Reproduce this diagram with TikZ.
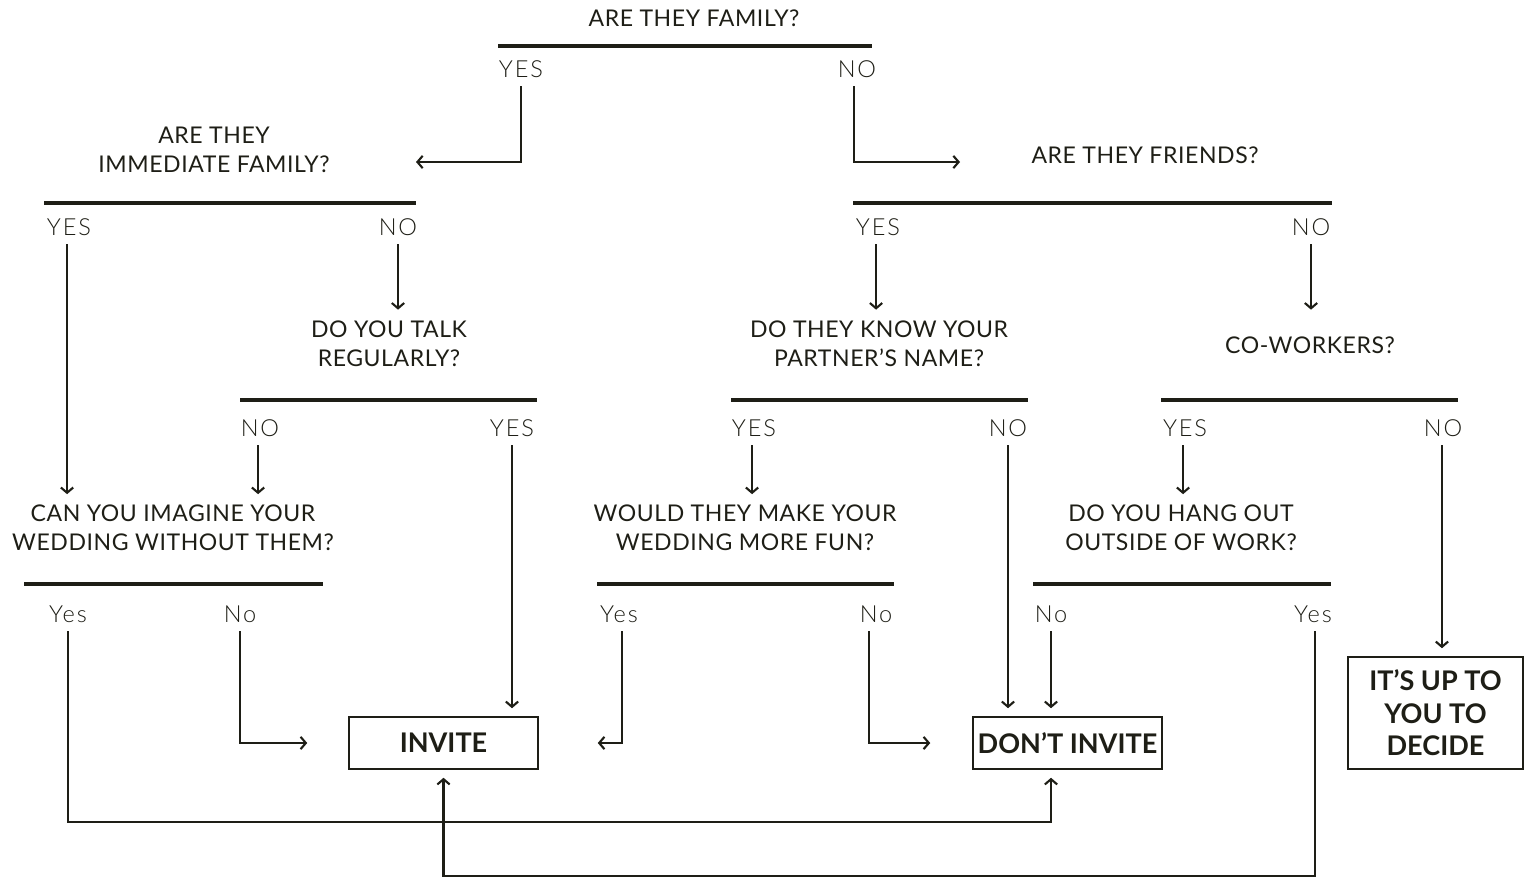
\documentclass[tikz,border=0pt]{standalone}
\usepackage{fontspec}
\setmainfont{Lato}
\newfontfamily\questfont{Lato}[LetterSpace=2.5]
\newfontfamily\lightfont{Lato Light}[LetterSpace=8]
\usetikzlibrary{arrows.meta}
\definecolor{ink}{RGB}{30,30,22}

\newcommand{\drawqbar}[3]{   % x1, x2, y
	\draw[qbar] (#1, #3) -- (#2, #3);
}

\tikzset{
	question/.style={font=\questfont\fontsize{13.1}{16.5}\selectfont, align=center, text=ink, inner sep=6pt},
	answer/.style={font=\lightfont\fontsize{13.4}{15}\selectfont, text=ink, inner sep=0pt,
		text height=9.5pt, text depth=0pt, outer sep=5pt},
	qbar/.style={draw=ink, line width=2.8pt},
	link/.style={draw=ink, line width=1.2pt, -{Straight Barb[length=3pt,width=7pt]}},
	result/.style={draw=ink, line width=1.4pt, font=\bfseries\fontsize{15.4}{18.5}\selectfont,
		align=center, text=ink, inner sep=0pt, outer sep=5pt},
}

\begin{document}
\begin{tikzpicture}[x=0.02cm, y=-0.02cm]
\useasboundingbox (0, 0) rectangle (1525, 878);

% questions
\node[question] (qfam) at (694, 18) {ARE THEY FAMILY?};
\node[question] (qimm) at (214, 150) {ARE THEY\\IMMEDIATE FAMILY?};
\node[question] (qfri) at (1145, 155) {ARE THEY FRIENDS?};
\node[question] (qtalk) at (389, 343.5) {DO YOU TALK\\REGULARLY?};
\node[question] (qknow) at (879, 343.5) {DO THEY KNOW YOUR\\PARTNER’S NAME?};
\node[question] (qcow) at (1310, 345) {CO-WORKERS?};
\node[question] (qcan) at (173, 528) {CAN YOU IMAGINE YOUR\\WEDDING WITHOUT THEM?};
\node[question] (qfun) at (745, 528) {WOULD THEY MAKE YOUR\\WEDDING MORE FUN?};
\node[question] (qhang) at (1181, 528) {DO YOU HANG OUT\\OUTSIDE OF WORK?};

\drawqbar{498}{872}{46}
\drawqbar{44}{416}{203}
\drawqbar{853}{1332}{203}
\drawqbar{240}{537}{400}
\drawqbar{731}{1028}{400}
\drawqbar{1161}{1458}{400}
\drawqbar{24}{323}{584}
\drawqbar{597}{894}{584}
\drawqbar{1033}{1331}{584}

% answers
\node[answer] (famyes) at (521, 69) {YES};
\node[answer] (famno) at (857, 69) {NO};
\node[answer] (immyes) at (69, 227) {YES};
\node[answer] (immno) at (398, 227) {NO};
\node[answer] (friyes) at (878, 227) {YES};
\node[answer] (frino) at (1311, 227) {NO};
\node[answer] (talkno) at (260, 428) {NO};
\node[answer] (talkyes) at (512, 428) {YES};
\node[answer] (knowyes) at (754, 428) {YES};
\node[answer] (knowno) at (1008, 428) {NO};
\node[answer] (cowyes) at (1185, 428) {YES};
\node[answer] (cowno) at (1443, 428) {NO};
\node[answer] (canyes) at (68, 614) {Yes};
\node[answer] (canno) at (240, 614) {No};
\node[answer] (funyes) at (619, 614) {Yes};
\node[answer] (funno) at (876, 614) {No};
\node[answer] (hangno) at (1051, 614) {No};
\node[answer] (hangyes) at (1313, 614) {Yes};

% outcomes
\node[result, minimum width=3.78cm, minimum height=1.04cm] (invite) at (443.5, 743) {INVITE};
\node[result, minimum width=3.78cm, minimum height=1.04cm] (dont) at (1067.5, 743) {DON’T INVITE};
\node[result, minimum width=3.5cm, minimum height=2.24cm] (decide) at (1435.5, 713) {IT’S UP TO\\YOU TO\\DECIDE};

\coordinate (immin) at (416, 162);
\coordinate (friin) at (960, 162);

% links
\draw[link] (famyes.south) |- (immin);
\draw[link] ([xshift=-1.7]famno.south) |- (friin);
\draw[link] ([xshift=-1.1]immyes.south) -- ([xshift=-1.1]immyes.south |- qcan.north);
\draw[link] (immno.south) -- (immno.south |- qtalk.north);
\draw[link] ([xshift=-1.1]friyes.south) -- ([xshift=-1.1]friyes.south |- qknow.north);
\draw[link] (frino.south) -- (frino.south |- qtalk.north);
\draw[link] ([xshift=-1.1]talkno.south) -- ([xshift=-1.1]talkno.south |- qcan.north);
\draw[link] (talkyes.south) -- (talkyes.south |- invite.north);
\draw[link] ([xshift=-1.1]knowyes.south) -- ([xshift=-1.1]knowyes.south |- qfun.north);
\draw[link] (knowno.south) -- (knowno.south |- dont.north);
\draw[link] ([xshift=-1.1]cowyes.south) -- ([xshift=-1.1]cowyes.south |- qhang.north);
\draw[link] ([xshift=-0.6]cowno.south) -- ([xshift=-0.6]cowno.south |- decide.north);
\draw[link] (canyes.south) -- (canyes.south |- 0, 822) -| (hangno.south |- dont.south);
\draw[link, shorten >=0.66cm] (canno.south) |- (invite.west);
\draw[link, shorten >=1.02cm] ([xshift=1.7]funyes.south) |- (invite.east);
\draw[link, shorten >=0.68cm] ([xshift=-4]funno.south) |- (dont.west);
\draw[link] (hangno.south) -- (hangno.south |- dont.north);
\draw[link] ([xshift=1.1]hangyes.south) -- ([xshift=1.1]hangyes.south |- 0, 876) -| (invite.south);
\end{tikzpicture}
\end{document}
